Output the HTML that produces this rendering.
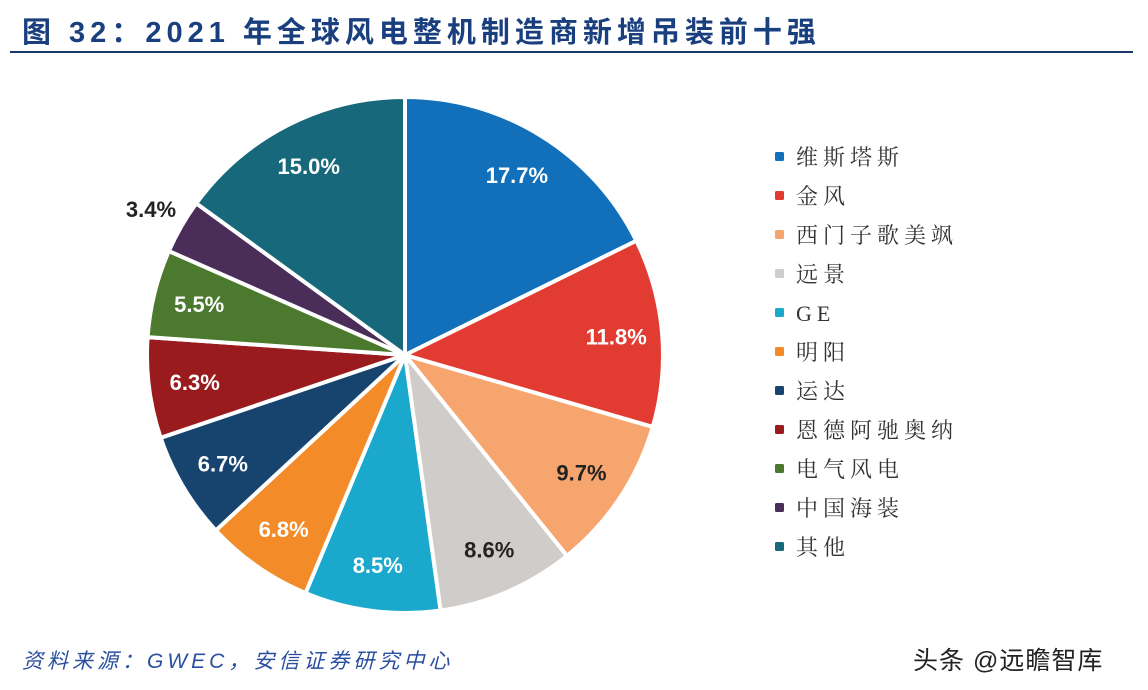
<!DOCTYPE html>
<html><head><meta charset="utf-8"><style>
body{margin:0;width:1148px;height:690px;background:#fff;overflow:hidden;font-family:"Liberation Sans","Noto Sans CJK SC",sans-serif}
#title{position:absolute;left:22px;top:9px;font-size:29px;font-weight:bold;color:#1a3f7f;letter-spacing:5px}
#rule{position:absolute;left:10px;top:51px;width:1123px;height:2px;background:#1a3a6e}
#src{position:absolute;left:22px;top:645px;font-size:21px;font-style:italic;color:#2a4fa0;letter-spacing:4px}
#wm{position:absolute;left:913px;top:641px;font-size:25px;color:#222;letter-spacing:1px}
</style></head><body>
<div id="title">图 32：2021 年全球风电整机制造商新增吊装前十强</div>
<div id="rule"></div>
<svg id="chart" width="1148" height="690" style="position:absolute;left:0;top:0"></svg>
<div id="src">资料来源：GWEC，安信证券研究中心</div>
<div id="wm">头条 @远瞻智库</div>
<script>
const categories=["维斯塔斯","金风","西门子歌美飒","远景","GE","明阳","运达","恩德阿驰奥纳","电气风电","中国海装","其他"];
const values=[17.7,11.8,9.7,8.6,8.5,6.8,6.7,6.3,5.5,3.4,15.0];
const labels=["17.7%","11.8%","9.7%","8.6%","8.5%","6.8%","6.7%","6.3%","5.5%","3.4%","15.0%"];
const colors=["#1170b9","#e23c32","#f7a56f","#d0ccc9","#1aa9cd","#f28b28","#17446f","#9a1b1e","#4b7a2e","#4a2d58","#16687a"];
const svg=document.getElementById('chart');const NS='http://www.w3.org/2000/svg';
const cx=405,cy=355,R=258,LR=212;
const total=values.reduce((a,b)=>a+b,0);
let a0=0;
function pt(a,r){return [cx+r*Math.sin(a),cy-r*Math.cos(a)];}
values.forEach((v,i)=>{
 const a1=a0+v/total*2*Math.PI;
 const p0=pt(a0,R),p1=pt(a1,R);
 const p=document.createElementNS(NS,'path');
 p.setAttribute('d',`M${cx},${cy}L${p0[0]},${p0[1]}A${R},${R} 0 ${a1-a0>Math.PI?1:0} 1 ${p1[0]},${p1[1]}Z`);
 p.setAttribute('fill',colors[i]);p.setAttribute('stroke','#fff');p.setAttribute('stroke-width','4');
 
 
 svg.appendChild(p);
 const m=(a0+a1)/2;let lr=LR;if(v<4)lr=R+35;
 const lp=pt(m,lr);
 const t=document.createElementNS(NS,'text');
 t.setAttribute('x',lp[0]);t.setAttribute('y',lp[1]+8);t.setAttribute('text-anchor','middle');
 t.setAttribute('font-size','22');t.setAttribute('font-weight','bold');t.setAttribute('font-family','Liberation Sans, sans-serif');
 t.setAttribute('fill',(i===2||i===3||v<4)?'#222':'#fff');
 t.textContent=labels[i];
 
 
 svg.appendChild(t);
 a0=a1;
});
categories.forEach((c,i)=>{
 const y=157+i*39;
 const r=document.createElementNS(NS,'rect');
 r.setAttribute('x',775);r.setAttribute('y',y-5);r.setAttribute('width',9);r.setAttribute('height',9);r.setAttribute('rx',1.5);r.setAttribute('fill',colors[i]);
 
 
 svg.appendChild(r);
 const t=document.createElementNS(NS,'text');
 t.setAttribute('x',796);t.setAttribute('y',y+8);t.setAttribute('font-size','22');t.setAttribute('fill','#333');
 t.setAttribute('font-family','Liberation Serif, Noto Serif CJK SC, serif');t.setAttribute('letter-spacing','5');
 t.textContent=c;
 
 
 svg.appendChild(t);
});
</script>
</body></html>
